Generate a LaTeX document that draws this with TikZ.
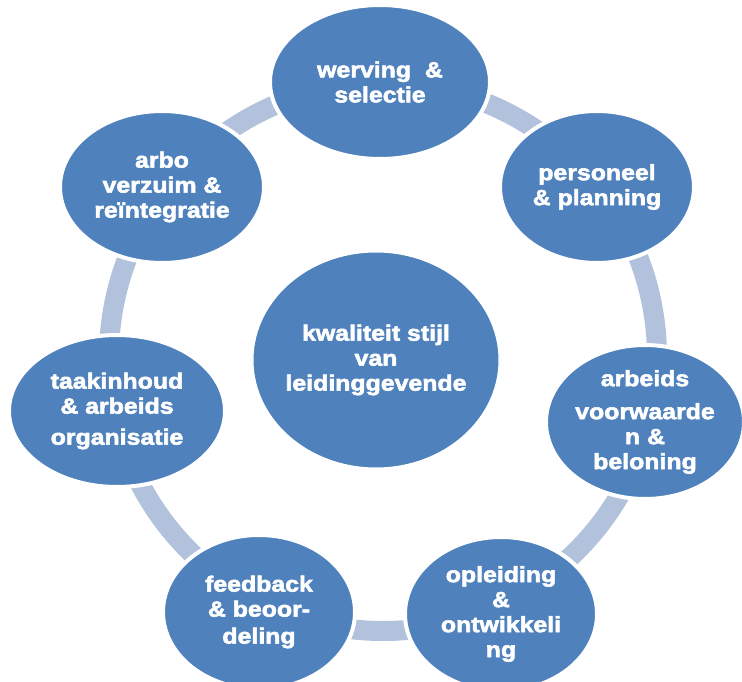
\documentclass[tikz,border=0pt]{standalone}
\usepackage{fontspec}
\setmainfont{Liberation Sans}[UprightFont={* Bold}, UprightFeatures={FakeBold=2.5}, FakeStretch=1.13]
\usetikzlibrary{shapes.geometric}

\definecolor{bubbleblue}{HTML}{4F81BD}
\definecolor{ringblue}{HTML}{B2C1DC}

\tikzset{
	bubble/.style={ellipse, fill=bubbleblue, draw=white, line width=4pt,
		text=white, align=center, inner sep=-14pt,
		font=\fontsize{22}{25}\selectfont},
	ring/.style={draw=ringblue, line width=20pt}
}

\begin{document}
\begin{tikzpicture}[x=1pt, y=-1pt]
	\useasboundingbox (0,0) rectangle (742,682);

	% ring behind the bubbles
	\coordinate (hub) at (383,357);
	\draw [ring] (hub) circle [radius=274pt];

	\node [bubble, minimum width=249, minimum height=219] (kern) at (376,360)
		{kwaliteit stijl\\van\\leidinggevende};

	\node [bubble, minimum width=220, minimum height=154] (werving) at (380,82)
		{werving~~\&\\selectie};
	\node [bubble, minimum width=194, minimum height=152] (personeel) at (597,187)
		{personeel\\\& planning};
	\node [bubble, minimum width=198, minimum height=154] (arbeids) at (645,422)
		{arbeids\\[8pt]voorwaarde\\n \&\\beloning};
	\node [bubble, minimum width=192, minimum height=154] (opleiding) at (501,614)
		{opleiding\\\&\\ontwikkeli\\ng};
	\node [bubble, minimum width=192, minimum height=154] (feedback) at (259,612)
		{feedback\\\& beoor-\\[2pt]deling};
	\node [bubble, minimum width=216, minimum height=152] (taak) at (117,411)
		{taakinhoud\\\& arbeids\\[6pt]organisatie};
	\node [bubble, minimum width=204, minimum height=152] (arbo) at (162,187)
		{arbo\\verzuim \&\\reïntegratie};
\end{tikzpicture}
\end{document}
